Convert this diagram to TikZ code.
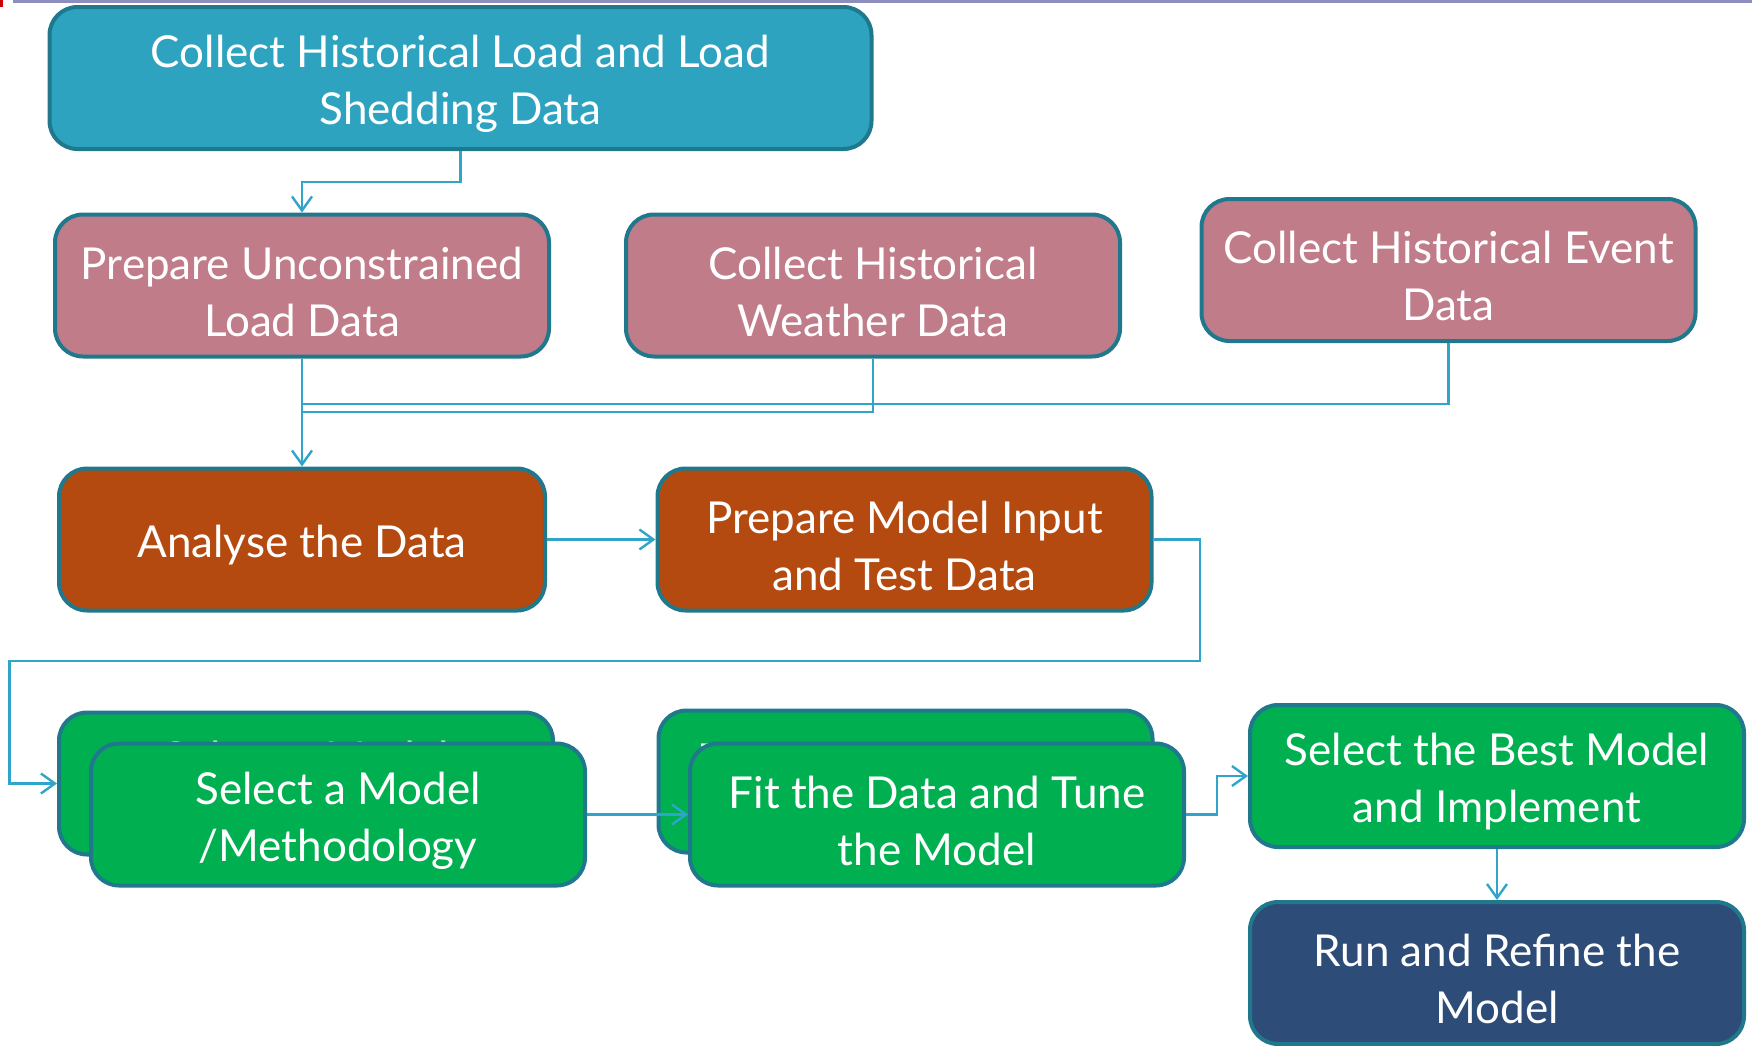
\documentclass[tikz,border=0pt]{standalone}
\usepackage{fontspec}
\setmainfont{Lato}
\usetikzlibrary{arrows.meta,calc}
\definecolor{bordc}{RGB}{32,120,140}
\definecolor{conc}{RGB}{49,165,201}
\definecolor{cblue}{RGB}{46,163,192}
\definecolor{cpink}{RGB}{192,124,137}
\definecolor{crust}{RGB}{180,74,16}
\definecolor{cgreen}{RGB}{0,176,80}
\definecolor{cnavy}{RGB}{46,76,120}
\definecolor{topline}{RGB}{142,142,190}
\tikzset{
  boxs/.style={draw=bordc, line width=2pt, rounded corners=14pt,
    inner sep=0pt, minimum width=247pt, minimum height=71pt},
  btext/.style={align=center, text=white, inner sep=0pt, yshift=-3pt,
    font=\fontsize{22}{28.5}\selectfont},
  conn/.style={draw=conc, line width=1.2pt},
  arr/.style={conn, -{Straight Barb[length=7pt,width=10pt,line width=1.2pt]}}
}
\newcommand{\bx}[5][]{%
  \node[boxs, fill=#2, #1] (#3) at #4 {};
  \node[btext] (#3t) at (#3.center) {#5};}
\begin{document}
\begin{tikzpicture}[x=0.5pt,y=-0.5pt]
\useasboundingbox (0,0) rectangle (1752,1045);
\fill[topline] (13,0) rectangle (1752,2.5);
\fill[red!80!black] (0,0) rectangle (3,7);
% boxes
\bx[minimum width=411pt]{cblue}{b1}{(460.5,78)}{Collect Historical Load and Load\\Shedding Data}
\bx{cpink}{b2}{(302,285.5)}{Prepare Unconstrained\\Load Data}
\bx{cpink}{b3}{(873,285.5)}{Collect Historical\\Weather Data}
\bx{cpink}{b4}{(1448.5,270)}{Collect Historical Event\\Data}
\bx[minimum width=243pt]{crust}{b5}{(302,539.5)}{Analyse the Data}
\bx{crust}{b6}{(904.5,539.5)}{Prepare Model Input\\and Test Data}
\bx{cgreen}{g1b}{(306,783.5)}{Select a Model\\/Methodology}
\bx{cgreen}{g1}{(338,814.5)}{Select a Model\\/Methodology}
\bx{cgreen}{g2b}{(905.5,781.5)}{Fit the Data and Tune\\the Model}
\bx{cgreen}{g2}{(937,814.5)}{Fit the Data and Tune\\the Model}
\bx{cgreen}{g3}{(1497,776)}{Select the Best Model\\and Implement}
\bx{cnavy}{run}{(1497,973)}{Run and Refine the\\Model}
% connectors
\draw[arr] (b1.south) -- (b1.south |- 0,182) -| (b2.north);
\draw[arr] (b2.south) -- (b5.north);
\draw[conn] (b3.south) -- (b3.south |- 0,412) -- (b2.south |- 0,412);
\draw[conn] (b4.south) -- (b4.south |- 0,404) -- (b2.south |- 0,404);
\draw[arr] (b5.east) -- (b6.west);
\coordinate (c1) at (1200,661);
\coordinate (c2) at (9.6,661);
\draw[arr] (b6.east) -| (c1) -- (c2) |- (g1b.west);
\draw[arr] (g1.east) -- (g2.west);
\coordinate (c3) at (1217,814.5);
\draw[arr] (g2.east) -- (c3) |- (g3.west);
\draw[arr] (g3.south) -- (run.north);
\end{tikzpicture}
\end{document}
